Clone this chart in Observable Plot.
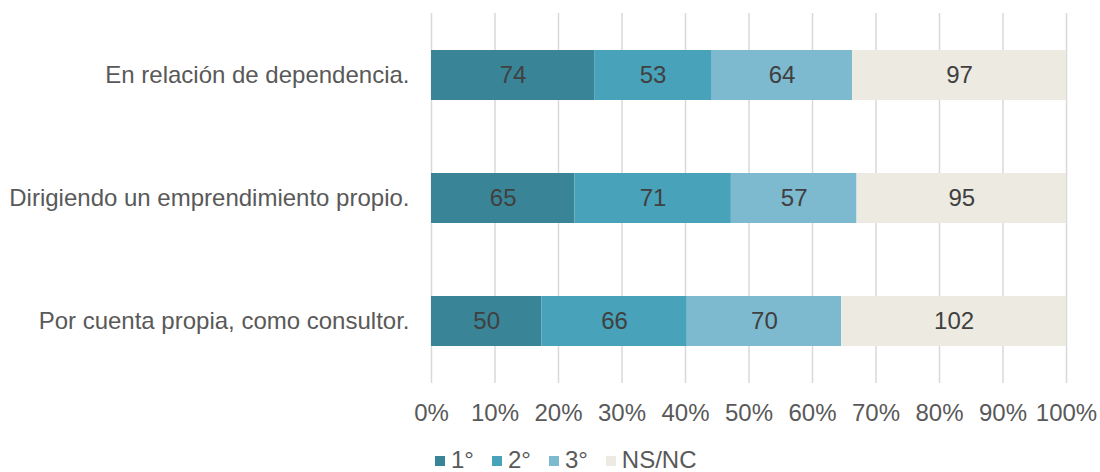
<!DOCTYPE html>
<html>
<head>
<meta charset="utf-8">
<script src="https://cdn.jsdelivr.net/npm/d3@7"></script>
<script src="https://cdn.jsdelivr.net/npm/@observablehq/plot@0.6"></script>
<style>
  html, body { margin: 0; padding: 0; background: #fff; }
  body { width: 1100px; height: 472px; position: relative; overflow: hidden; font-family: "Liberation Sans", Arial, sans-serif; }
  #legend { position: absolute; left: 435px; top: 450px; display: flex; align-items: center; font-size: 24px; color: #595959; line-height: 20px; height: 20px; }
  #legend .item { display: flex; align-items: center; margin-right: 18px; }
  #legend .sw { width: 10px; height: 10px; margin-right: 6px; margin-top: 1px; }
</style>
</head>
<body>
<div id="chart"></div>
<div id="legend"></div>
<script>
const categories = ["En relación de dependencia.", "Dirigiendo un emprendimiento propio.", "Por cuenta propia, como consultor."];
const seriesNames = ["1°", "2°", "3°", "NS/NC"];
const values1 = [74, 65, 50];
const values2 = [53, 71, 66];
const values3 = [64, 57, 70];
const valuesNS = [97, 95, 102];
const colors = ["#398597", "#47a2ba", "#7db9cf", "#edebe1"];
const xTicks = [0, 0.1, 0.2, 0.3, 0.4, 0.5, 0.6, 0.7, 0.8, 0.9, 1];

const seriesValues = [values1, values2, values3, valuesNS];
const data = [];
categories.forEach((c, i) => {
  seriesNames.forEach((s, j) => data.push({cat: c, series: s, value: seriesValues[j][i]}));
});

const plot = Plot.plot({
  width: 1100,
  height: 440,
  marginLeft: 431,
  marginRight: 34,
  marginTop: 13,
  marginBottom: 57,
  style: {fontFamily: "'Liberation Sans', Arial, sans-serif", fontSize: "24px", color: "#595959", background: "#fff", overflow: "visible"},
  x: {domain: [0, 1], ticks: xTicks, tickFormat: d => Math.round(d * 100) + "%", label: null},
  y: {domain: categories, paddingInner: 0.595, paddingOuter: 0.2975, label: null},
  color: {domain: seriesNames, range: colors},
  marks: [
    Plot.ruleX(xTicks, {stroke: "#d9d9d9", strokeWidth: 1.5}),
    Plot.barX(data, {x: "value", y: "cat", fill: "series", offset: "normalize", order: seriesNames}),
    Plot.textX(data, Plot.stackX({x: "value", y: "cat", z: "series", text: d => String(d.value), offset: "normalize", order: seriesNames, fill: "#404040", fontSize: 24})),
    Plot.axisX({ticks: xTicks, tickFormat: d => Math.round(d * 100) + "%", tickSize: 0, tickPadding: 20, fontSize: 24, fill: "#595959", label: null}),
    Plot.axisY({tickSize: 0, tickPadding: 22, fontSize: 24, fill: "#595959", label: null})
  ]
});
document.getElementById("chart").appendChild(plot);

const legend = document.getElementById("legend");
seriesNames.forEach((s, i) => {
  const item = document.createElement("div");
  item.className = "item";
  const sw = document.createElement("div");
  sw.className = "sw";
  sw.style.background = colors[i];
  const t = document.createElement("span");
  t.textContent = s;
  item.appendChild(sw);
  item.appendChild(t);
  legend.appendChild(item);
});
</script>
</body>
</html>
